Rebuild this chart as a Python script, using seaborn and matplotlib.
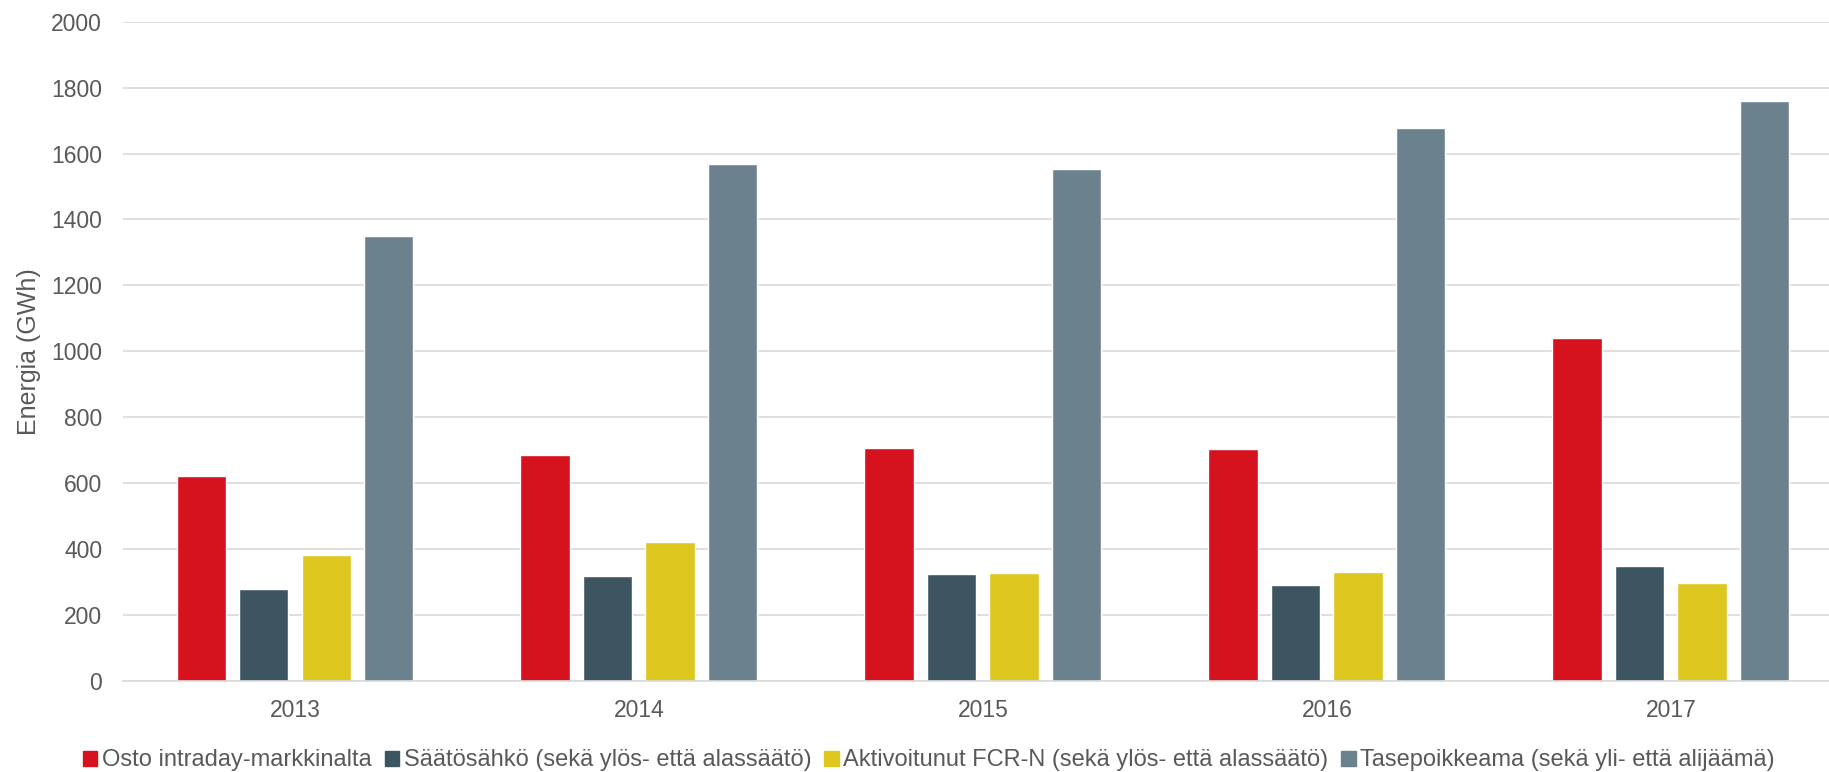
import numpy as np
import pandas as pd
import matplotlib
matplotlib.use("Agg")
import matplotlib.pyplot as plt
import seaborn as sns

years = ["2013", "2014", "2015", "2016", "2017"]
series = [
    "Osto intraday-markkinalta",
    "Säätösähkö (sekä ylös- että alassäätö)",
    "Aktivoitunut FCR-N (sekä ylös- että alassäätö)",
    "Tasepoikkeama (sekä yli- että alijäämä)",
]
intraday = [622, 687, 707, 705, 1040]
saatosahko = [279, 318, 325, 290, 350]
fcr_n = [382, 423, 328, 331, 298]
tasepoikkeama = [1350, 1568, 1552, 1678, 1760]
colors = ["#d7121f", "#3d5560", "#dec71f", "#6c818e"]

df = pd.DataFrame({
    "year": years * 4,
    "series": np.repeat(series, len(years)),
    "value": intraday + saatosahko + fcr_n + tasepoikkeama,
})

sns.set_style("white")
plt.rcParams["font.family"] = ["Liberation Sans", "DejaVu Sans"]

fig = plt.figure(figsize=(18.29, 7.72), dpi=100)
ax = fig.add_axes([123 / 1829, 1 - 681 / 772, 1 - 123 / 1829, (681 - 21.7) / 772])

sns.barplot(data=df, x="year", y="value", hue="series", palette=colors,
            width=0.727, gap=0.21, ax=ax, legend=False, saturation=1)

ax.set_ylim(0, 2000)
ax.set_xlim(-0.5, 4.46)
ax.set_yticks(np.arange(0, 2001, 200))
ax.yaxis.grid(True, color="#d9d9d9", linewidth=1.2)
ax.set_axisbelow(True)
for s in ["top", "right", "left"]:
    ax.spines[s].set_visible(False)
ax.spines["bottom"].set_color("#d9d9d9")
ax.spines["bottom"].set_linewidth(1.2)
ax.tick_params(axis="both", length=0, labelsize=16.5, labelcolor="#595959")
ax.tick_params(axis="y", pad=15)
ax.tick_params(axis="x", pad=13)
ax.set_xlabel("")
ax.set_ylabel("Energia (GWh)", fontsize=18, color="#595959", labelpad=7)

handles = [plt.Rectangle((0, 0), 1, 1, color=c) for c in colors]
fig.legend(handles, series, loc="center", bbox_to_anchor=(0.508, 0.015), ncol=4,
           frameon=False, fontsize=17, labelcolor="#595959", handlelength=0.6,
           handleheight=0.6, handletextpad=0.2, columnspacing=0.55)

fig.savefig("out.png", dpi=100)
